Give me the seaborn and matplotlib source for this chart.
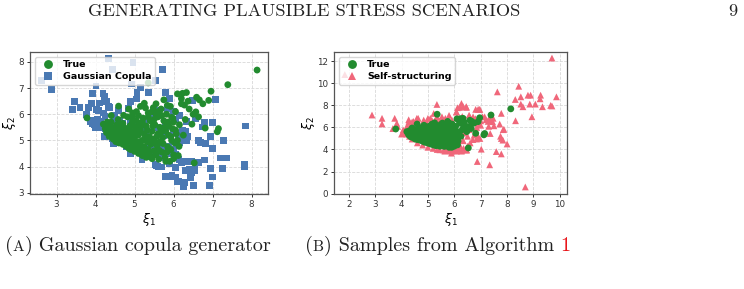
import matplotlib
matplotlib.use("Agg")
import matplotlib.pyplot as plt
import pandas as pd
import seaborn as sns

# True samples (same in both panels)
true_x = [3.78, 4.20, 4.25, 4.28, 4.32, 4.35, 4.38, 4.40, 4.42, 4.45, 4.48, 4.50, 4.52, 4.55, 4.55, 4.58,
          4.60, 4.62, 4.65, 4.68, 4.70, 4.70, 4.72, 4.75, 4.78, 4.80, 4.80, 4.82, 4.85, 4.85, 4.88, 4.90,
          4.90, 4.92, 4.95, 4.95, 4.98, 5.00, 5.00, 5.02, 5.05, 5.05, 5.08, 5.10, 5.10, 5.12, 5.15, 5.15,
          5.18, 5.20, 5.20, 5.22, 5.25, 5.25, 5.28, 5.30, 5.30, 5.32, 5.35, 5.35, 5.38, 5.40, 5.40, 5.42,
          5.45, 5.45, 5.48, 5.50, 5.50, 5.52, 5.55, 5.58, 5.60, 5.60, 5.62, 5.65, 5.65, 5.68, 5.70, 5.72,
          5.75, 5.78, 5.80, 5.82, 5.85, 5.88, 5.90, 5.92, 5.95, 5.98, 6.00,
          4.30, 4.40, 4.59, 4.72, 4.85, 4.95, 5.15, 5.25, 5.28, 5.35, 5.60, 5.50,
          6.10, 6.23, 6.33, 6.37, 6.20, 6.28, 6.59, 6.66, 6.75, 6.90, 6.96, 7.39, 8.14, 6.57, 6.64, 6.50,
          6.47, 6.81, 7.12, 7.15, 5.84, 5.95, 6.00, 5.93, 6.05, 5.63, 6.14, 6.12, 6.53, 5.80, 6.00, 6.10,
          6.15, 6.30, 6.40, 6.25, 6.05, 6.20, 5.75, 5.55,
          4.30, 4.36, 4.44, 4.50, 4.57, 4.63, 4.66, 4.74, 4.77, 4.83, 4.87, 4.93, 4.97, 5.03, 5.07, 5.13,
          5.17, 5.23, 5.27, 5.33, 5.37, 5.43, 5.47, 5.53, 5.57, 5.63, 5.67, 5.73, 5.77, 5.83, 5.87, 5.93,
          5.97, 6.03, 6.07, 5.05, 5.20, 5.35, 5.55, 4.95, 5.10, 5.45, 5.70, 5.85]
true_y = [5.86, 5.62, 5.45, 5.30, 5.55, 5.15, 5.40, 5.70, 5.25, 5.05, 5.50, 5.35, 4.95, 5.60, 5.20, 5.80,
          4.90, 5.10, 5.45, 5.30, 4.85, 5.65, 5.00, 5.20, 4.78, 5.40, 5.05, 5.90, 4.70, 5.25, 5.55, 4.95,
          4.65, 5.15, 5.75, 4.80, 5.35, 4.58, 5.05, 5.50, 4.90, 6.10, 4.70, 5.20, 4.50, 5.65, 4.85, 5.40,
          4.60, 5.00, 4.42, 5.85, 4.75, 5.25, 4.50, 5.55, 4.35, 4.95, 6.05, 4.65, 5.15, 4.40, 5.75, 4.85,
          5.35, 4.30, 6.25, 4.60, 5.05, 5.60, 4.45, 4.80, 5.90, 5.25, 4.28, 4.95, 5.50, 6.20, 4.55, 5.10,
          5.75, 4.35, 5.35, 6.00, 4.75, 5.55, 4.20, 6.30, 5.00, 5.85, 4.45,
          5.70, 5.95, 6.31, 5.96, 6.20, 6.05, 6.30, 6.42, 6.24, 7.20, 6.10, 5.80,
          6.78, 6.80, 6.83, 6.50, 6.40, 6.35, 6.65, 6.55, 6.40, 6.53, 6.88, 7.13, 7.69, 6.09, 5.90, 6.00,
          5.62, 5.47, 5.33, 5.45, 6.34, 5.88, 5.70, 5.14, 5.40, 6.09, 4.77, 4.42, 4.14, 4.20, 4.30, 5.00,
          5.60, 5.80, 6.20, 5.20, 6.10, 6.60, 6.55, 6.40,
          5.40, 5.62, 5.38, 5.15, 5.40, 5.62, 5.02, 5.48, 4.92, 5.12, 5.42, 5.62, 4.70, 5.22, 5.38, 4.95,
          5.55, 4.55, 5.10, 5.40, 4.48, 5.05, 5.55, 4.90, 5.15, 4.62, 5.30, 4.88, 5.50, 4.55, 5.20, 4.65,
          5.45, 4.90, 5.25, 5.75, 5.70, 5.90, 6.00, 5.90, 5.95, 6.10, 5.95, 5.70]

# Gaussian copula generator samples (panel A)
gc_x = [2.61, 2.87, 4.33, 4.44, 4.96, 4.93, 4.01, 3.92, 4.19, 4.22, 3.47, 3.40, 3.60, 3.76, 3.82, 3.90,
        4.10, 4.29, 4.36, 4.03, 3.95, 4.03, 4.08, 4.12, 3.98, 4.48, 5.06, 5.15, 5.06, 4.50, 4.70, 4.90,
        4.24, 4.20, 4.15, 4.59, 4.85, 4.90,
        5.71, 5.54, 5.35, 5.80, 5.89, 7.07, 6.49, 6.34, 6.79, 6.99, 7.84, 7.28, 6.64, 6.70, 6.32, 6.22,
        6.24, 6.33, 6.12, 6.15, 6.00, 6.99, 7.20, 7.35, 6.79, 7.82, 7.82, 7.25, 6.94, 6.55, 6.45, 6.55,
        7.00, 6.92, 6.51, 6.29, 6.26, 6.12, 6.05, 5.97, 6.40, 6.45, 6.30, 6.20, 6.05, 5.90, 5.60, 5.55,
        5.75, 5.95, 6.00, 5.65, 5.75, 5.60, 5.45, 5.30, 6.05, 5.80, 5.60, 5.75, 5.80, 5.50, 5.35, 5.60,
        5.85, 6.15, 6.05,
        5.53, 5.70, 5.79, 5.96, 6.09,
        4.80, 4.50, 4.89, 5.10, 5.19, 5.32, 4.89, 4.59, 4.42, 4.25, 4.07, 3.99, 4.68, 5.10, 5.28, 5.40,
        5.49,
        5.84, 5.99, 6.57, 6.74, 6.95, 6.82, 6.20, 6.36, 5.95, 5.88, 6.14, 6.31, 6.63, 6.44, 3.92, 4.05,
        4.18, 3.88, 4.00, 4.07, 4.33, 4.61, 4.23, 4.46, 5.04]
gc_y = [7.30, 6.94, 8.14, 7.72, 7.97, 7.16, 7.08, 6.80, 6.80, 6.69, 6.49, 6.18, 6.25, 6.00, 6.25, 6.40,
        6.43, 6.49, 6.25, 6.18, 5.77, 5.62, 5.55, 5.72, 5.60, 5.96, 6.84, 7.03, 6.60, 5.77, 5.65, 5.70,
        5.90, 6.05, 5.50, 6.15, 6.21, 6.50,
        7.70, 7.28, 6.84, 6.82, 6.59, 6.55, 6.53, 5.71, 5.69, 5.69, 5.55, 5.00, 5.00, 4.92, 5.33, 5.38,
        5.15, 4.98, 5.15, 4.92, 5.30, 4.68, 4.33, 4.33, 4.25, 4.08, 4.00, 3.92, 3.92, 4.12, 4.18, 3.85,
        3.60, 3.26, 3.26, 3.38, 3.25, 3.45, 3.60, 3.60, 3.90, 3.75, 3.85, 4.15, 3.95, 4.10, 4.00, 4.03,
        4.35, 4.55, 4.65, 4.55, 4.70, 4.80, 4.55, 4.70, 4.45, 5.40, 5.50, 5.20, 5.60, 6.00, 5.80, 6.15,
        6.20, 5.95, 5.80,
        4.07, 3.98, 3.63, 3.65, 3.44,
        4.76, 5.00, 4.50, 4.63, 4.26, 4.38, 5.20, 5.32, 5.07, 5.45, 5.61, 5.70, 5.50, 5.58, 5.33, 4.88,
        4.63,
        6.27, 6.10, 5.83, 5.51, 5.14, 4.88, 5.26, 5.16, 4.51, 4.76, 4.26, 4.19, 4.16, 3.57, 5.65, 5.80,
        5.60, 5.72, 5.50, 6.14, 6.29, 5.76, 5.16, 4.88, 6.58]

# Self-structuring samples (panel B)
ss_x = [1.85, 2.88, 3.26, 3.26, 3.74, 3.82, 3.67, 3.85, 4.06, 4.06, 4.28, 4.35, 4.45, 4.58, 4.65, 4.63,
        5.00, 4.95, 5.34, 5.15, 5.30, 5.45, 5.66, 5.55, 5.75,
        9.70, 8.44, 7.63, 8.52, 8.79, 8.89, 8.31, 9.27, 9.25, 9.87, 8.52, 8.60, 8.86, 9.07, 9.34, 9.65,
        9.70, 8.94, 8.32, 7.78, 6.90, 6.97, 6.12, 6.27, 6.33, 6.45, 6.08, 7.47, 7.72, 7.88, 7.50, 7.20,
        7.28, 7.38, 7.15, 7.00, 6.90, 6.84, 6.97, 7.02, 6.87, 7.34, 7.59, 7.78, 7.78, 7.84, 8.00, 7.75,
        7.85, 8.69, 6.27, 6.45, 6.33, 6.40, 6.55, 6.65, 5.70, 5.88, 5.88, 6.20,
        5.45, 5.64, 6.08, 6.27, 6.46, 6.81, 6.94, 7.07, 7.32, 7.45, 7.36, 7.30, 6.69, 6.94, 6.56, 6.71,
        6.46, 6.20, 6.08, 4.00, 4.20, 4.27, 4.40, 4.58, 4.84, 5.09, 5.22, 5.34, 5.53, 5.72, 5.91,
        4.60, 4.80, 5.00, 5.20, 5.35, 5.60, 5.75, 6.00, 6.15, 6.35, 6.50, 6.60, 6.70, 6.75, 6.80, 6.85,
        6.90, 4.40, 4.30, 4.20,
        6.39, 6.55, 6.65, 6.46, 5.89, 5.89, 6.20, 6.33,
        5.00, 5.50, 5.20, 5.80, 6.00, 6.20, 6.30, 6.60, 6.80, 7.00, 6.50, 6.20, 5.90, 6.10, 5.80]
ss_y = [10.80, 7.13, 6.83, 6.32, 6.83, 6.38, 5.90, 6.10, 5.53, 5.77, 6.52, 6.35, 6.55, 6.55, 6.30, 6.83,
        6.83, 6.50, 8.09, 6.65, 6.75, 6.60, 6.83, 6.70, 6.55,
        12.30, 9.74, 9.23, 8.78, 8.93, 8.93, 8.54, 8.93, 8.60, 8.78, 8.12, 7.88, 8.12, 8.12, 7.88, 8.00,
        7.95, 6.97, 6.61, 7.28, 7.64, 7.64, 7.79, 8.18, 7.90, 7.90, 7.40, 6.83, 6.31, 5.83, 6.15, 6.70,
        6.55, 6.60, 6.97, 6.60, 5.17, 4.95, 5.00, 4.03, 2.91, 2.61, 3.81, 3.60, 5.00, 4.85, 4.50, 5.20,
        5.80, 0.60, 3.90, 3.95, 4.80, 5.50, 5.80, 6.40, 3.97, 4.05, 3.85, 4.30,
        3.97, 3.85, 3.85, 3.85, 3.97, 7.64, 7.64, 6.97, 6.82, 6.52, 5.45, 6.10, 6.67, 6.67, 7.12, 6.97,
        7.82, 7.82, 7.42, 5.40, 6.10, 6.70, 6.50, 6.83, 6.67, 6.83, 7.27, 6.97, 6.97, 6.37, 6.67,
        4.60, 4.40, 4.20, 4.10, 4.00, 3.95, 3.90, 3.95, 4.00, 4.10, 4.30, 4.60, 4.90, 5.30, 5.60, 6.00,
        6.30, 4.95, 5.20, 5.40,
        5.62, 5.92, 6.68, 3.97, 4.12, 3.67, 4.42, 4.80,
        5.00, 5.50, 5.80, 5.00, 6.00, 6.50, 7.00, 6.90, 6.80, 6.20, 5.20, 5.60, 6.50, 6.90, 7.10]

xticks_a = [3, 4, 5, 6, 7, 8]
yticks_a = [3, 4, 5, 6, 7, 8]
xticks_b = [2, 3, 4, 5, 6, 7, 8, 9, 10]
yticks_b = [0, 2, 4, 6, 8, 10, 12]

palette = {'True': '#228b2f', 'Gaussian Copula': '#4a79b3', 'Self-structuring': '#f0677a'}
ink = '#222222'


def panel(ax, name, ox, oy, marker, xlim, ylim, xt, yt):
    df = pd.concat([pd.DataFrame({'x': ox, 'y': oy, 'kind': name}),
                    pd.DataFrame({'x': true_x, 'y': true_y, 'kind': 'True'})], ignore_index=True)
    sns.scatterplot(data=df, x='x', y='y', hue='kind', style='kind',
                    hue_order=['True', name], style_order=['True', name],
                    markers={'True': 'o', name: marker}, palette=palette,
                    s=24, linewidth=0, alpha=1.0, ax=ax)
    handles, labels = ax.get_legend_handles_labels()
    keep = [(h, l) for h, l in zip(handles, labels) if l in ('True', name)]
    ax.legend([h for h, l in keep], [l for h, l in keep], loc='upper left',
              prop={'weight': 'bold', 'size': 6.8}, markerscale=1.3,
              borderpad=0.4, labelspacing=0.3, handletextpad=0.6, framealpha=0.8)
    ax.set_xlim(xlim)
    ax.set_ylim(ylim)
    ax.set_xticks(xt)
    ax.set_yticks(yt)
    ax.grid(True, linestyle='--', linewidth=0.6, color='#d8d8d8')
    ax.set_axisbelow(True)
    ax.tick_params(labelsize=6.3, length=2.5, width=0.7, pad=2, colors='#333333')
    for sp in ax.spines.values():
        sp.set_color('#555555')
        sp.set_linewidth(0.9)
    ax.set_xlabel(r'$\xi_1$', fontsize=9, labelpad=1)
    ax.set_ylabel(r'$\xi_2$', fontsize=9, labelpad=0)


def seq_text(fig, x_px, y_px, pieces):
    # write text pieces one after another on a baseline
    r = fig.canvas.get_renderer()
    x = x_px
    for s, size, color in pieces:
        t = fig.text(x / 744, 1 - y_px / 289, s, family='cmr10', fontsize=size,
                     ha='left', va='baseline', color=color)
        x = t.get_window_extent(r).x1


fig = plt.figure(figsize=(7.44, 2.89), dpi=100)
ax1 = fig.add_axes([30 / 744, 1 - 194 / 289, 238 / 744, 142 / 289])
ax2 = fig.add_axes([334 / 744, 1 - 194 / 289, 233 / 744, 142 / 289])

panel(ax1, 'Gaussian Copula', gc_x, gc_y, 's', (2.32, 8.42), (2.95, 8.38), xticks_a, yticks_a)
panel(ax2, 'Self-structuring', ss_x, ss_y, '^', (1.44, 10.27), (-0.04, 12.85), xticks_b, yticks_b)

fig.canvas.draw()
# page header and captions
seq_text(fig, 88, 16, [('GENERATING PLAUSIBLE STRESS SCENARIOS', 13.3, ink)])
fig.text(737 / 744, 1 - 16 / 289, '9', family='cmr10', fontsize=13.3, ha='right',
         va='baseline', color=ink)
seq_text(fig, 5, 251, [('(', 14.5, ink), ('A', 11.2, ink), (')', 14.5, ink),
                       (' Gaussian copula generator', 14.5, ink)])
seq_text(fig, 305, 251, [('(', 14.5, ink), ('B', 11.2, ink), (')', 14.5, ink),
                         (' Samples from Algorithm ', 14.5, ink), ('1', 14.5, '#e8161b')])

fig.savefig('out.png', dpi=100)
